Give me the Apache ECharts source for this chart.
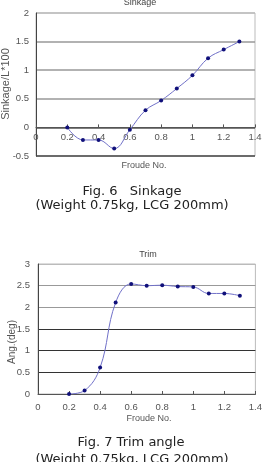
<!DOCTYPE html>
<html>
<head>
<meta charset="utf-8">
<script src="https://cdn.jsdelivr.net/npm/echarts@6/dist/echarts.min.js"></script>
<style>
    html,body{margin:0;padding:0;background:#fff;}
    #main{width:265px;height:462px;}
</style>
</head>
<body>
<div id="main"></div>
<script>
    // 数据
    var froude = [0.2, 0.3, 0.4, 0.5, 0.6, 0.7, 0.8, 0.9, 1.0, 1.1, 1.2, 1.3];
    var sinkage = [0, -0.22, -0.22, -0.37, -0.04, 0.3, 0.47, 0.68, 0.91, 1.21, 1.36, 1.5];
    var trim = [0, 0.08, 0.61, 2.11, 2.54, 2.5, 2.51, 2.48, 2.47, 2.32, 2.32, 2.27];

    function pairs(xs, ys) {
        var out = [];
        for (var i = 0; i < xs.length; i++) {
            out.push([xs[i], ys[i]]);
        }
        return out;
    }

    var smallFont = 'Liberation Sans';
    var fmt = function (v) { return String(Math.round(v * 10) / 10); };

    var myChart = echarts.init(document.getElementById('main'));
    var option = {
        backgroundColor: '#fff',
        animation: false,
        grid: [
            {left: 36, top: 13, width: 219, height: 143, show: true, borderColor: '#bbb', borderWidth: 1},
            {left: 38, top: 264, width: 223, height: 130, show: true, borderColor: '#bbb', borderWidth: 1}
        ],
        xAxis: [
            {
                // 轴线放在 y=0 处
                gridIndex: 0, type: 'value', min: 0, max: 1.4, interval: 0.2,
                offset: -28.6,
                axisLine: {onZero: false, lineStyle: {color: '#555', width: 1}},
                axisTick: {inside: true, length: 3, lineStyle: {color: '#555'}},
                axisLabel: {margin: 5, fontFamily: smallFont, fontSize: 9.5, color: '#555', formatter: fmt},
                splitLine: {show: false}
            },
            {
                gridIndex: 1, type: 'value', min: 0, max: 1.4, interval: 0.2,
                axisLine: {onZero: false, lineStyle: {color: '#555', width: 1}},
                axisTick: {inside: true, length: 3, lineStyle: {color: '#555'}},
                axisLabel: {margin: 8, fontFamily: smallFont, fontSize: 9.5, color: '#555', formatter: fmt},
                splitLine: {show: false}
            }
        ],
        yAxis: [
            {
                gridIndex: 0, type: 'value', min: -0.5, max: 2, interval: 0.5,
                axisLine: {show: true, lineStyle: {color: '#444'}},
                axisTick: {show: false},
                axisLabel: {margin: 7, fontFamily: smallFont, fontSize: 9.5, color: '#555'},
                splitLine: {show: true, lineStyle: {color: ['#444', '#555', '#999', '#999', '#999', '#bbb'], width: 1.5}}
            },
            {
                gridIndex: 1, type: 'value', min: 0, max: 3, interval: 0.5,
                axisLine: {show: true, lineStyle: {color: '#444'}},
                axisTick: {show: false},
                axisLabel: {margin: 8, fontFamily: smallFont, fontSize: 9.5, color: '#555'},
                splitLine: {show: true, lineStyle: {color: ['#444', '#333', '#333', '#333', '#999', '#999', '#bbb'], width: 1.2}}
            }
        ],
        series: [
            {
                type: 'line', xAxisIndex: 0, yAxisIndex: 0,
                data: pairs(froude, sinkage), smooth: 0.4,
                symbol: 'circle', symbolSize: 4,
                lineStyle: {color: '#7070c8', width: 1},
                itemStyle: {color: '#10107a'}
            },
            {
                type: 'line', xAxisIndex: 1, yAxisIndex: 1,
                data: pairs(froude, trim), smooth: 0.4,
                symbol: 'circle', symbolSize: 4,
                lineStyle: {color: '#7070c8', width: 1},
                itemStyle: {color: '#10107a'}
            }
        ],
        graphic: [
            {type: 'text', x: 140, y: 3, style: {text: 'Sinkage', font: '9px Liberation Sans', fill: '#444', align: 'center', verticalAlign: 'middle'}},
            {type: 'text', x: 6, y: 84, rotation: Math.PI / 2, style: {text: 'Sinkage/L*100', font: '11px Liberation Sans', fill: '#555', align: 'center', verticalAlign: 'middle'}},
            {type: 'text', x: 144, y: 166, style: {text: 'Froude No.', font: '9px Liberation Sans', fill: '#555', align: 'center', verticalAlign: 'middle'}},
            {type: 'text', x: 132, y: 192, style: {text: 'Fig. 6   Sinkage', font: '13px DejaVu Sans', fill: '#222', align: 'center', verticalAlign: 'middle'}},
            {type: 'text', x: 132, y: 206, style: {text: '(Weight 0.75kg, LCG 200mm)', font: '13px DejaVu Sans', fill: '#222', align: 'center', verticalAlign: 'middle'}},

            {type: 'text', x: 148, y: 255, style: {text: 'Trim', font: '9px Liberation Sans', fill: '#444', align: 'center', verticalAlign: 'middle'}},
            {type: 'text', x: 12, y: 342, rotation: Math.PI / 2, style: {text: 'Ang.(deg)', font: '10px Liberation Sans', fill: '#555', align: 'center', verticalAlign: 'middle'}},
            {type: 'text', x: 149, y: 419, style: {text: 'Froude No.', font: '9px Liberation Sans', fill: '#555', align: 'center', verticalAlign: 'middle'}},
            {type: 'text', x: 131, y: 443, style: {text: 'Fig. 7 Trim angle', font: '13px DejaVu Sans', fill: '#222', align: 'center', verticalAlign: 'middle'}},
            {type: 'text', x: 132, y: 460, style: {text: '(Weight 0.75kg, LCG 200mm)', font: '13px DejaVu Sans', fill: '#222', align: 'center', verticalAlign: 'middle'}}
        ]
    };
    myChart.setOption(option);
</script>
</body>
</html>
